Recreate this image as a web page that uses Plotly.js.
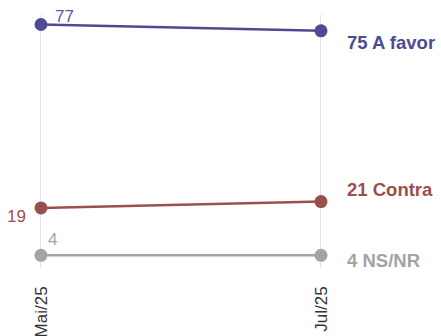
<!DOCTYPE html>
<html><head><meta charset="utf-8">
<script src="https://cdn.plot.ly/plotly-3.0.1.min.js"></script>
<style>html,body{margin:0;padding:0;background:#fff}#chart{width:441px;height:336px}</style>
</head><body><div id="chart"></div>
<script>
const periods = ["Mai/25", "Jul/25"];
const seriesNames = ["A favor", "Contra", "NS/NR"];
const aFavor = [77, 75];
const contra = [19, 21];
const nsnr = [4, 4];
const colors = ["#4e4a94", "#9a4f4f", "#a3a3a3"];
const allSeries = [aFavor, contra, nsnr];

const traces = allSeries.map((vals, i) => ({
  x: periods, y: vals, type: "scatter", mode: "lines+markers",
  line: {color: colors[i], width: 2.5},
  marker: {color: colors[i], size: 13},
  hoverinfo: "skip", showlegend: false, cliponaxis: false
}));

const leftShift = [{xs: 24, ys: 8}, {xs: -24, ys: -9}, {xs: 12, ys: 16}];
const leftColors = ["#5d5a94", "#9a5050", "#a3a3a3"];
const annotations = [];
allSeries.forEach((vals, i) => {
  annotations.push({
    x: periods[0], y: vals[0], xref: "x", yref: "y", text: String(vals[0]),
    showarrow: false, xshift: leftShift[i].xs, yshift: leftShift[i].ys,
    font: {family: "Liberation Sans, Arial", size: 17, color: leftColors[i]}
  });
});
const rightYs = [-12, 12, -5];
allSeries.forEach((vals, i) => {
  annotations.push({
    x: periods[1], y: vals[1], xref: "x", yref: "y",
    text: "<b>" + vals[1] + " " + seriesNames[i] + "</b>",
    showarrow: false, xanchor: "left", xshift: 24, yshift: rightYs[i],
    font: {family: "Liberation Sans, Arial", size: 18.5, color: colors[i]}
  });
});

const layout = {
  width: 441, height: 336,
  margin: {l: 0, r: 0, t: 15, b: 68},
  paper_bgcolor: "#fff", plot_bgcolor: "#fff",
  xaxis: {
    type: "category", range: [-0.1464, 1.4286],
    showgrid: true, gridcolor: "#e3e3e3", gridwidth: 1,
    zeroline: false, showline: false, ticks: "", ticklabelstandoff: 14,
    tickangle: -90, tickfont: {family: "Liberation Sans, Arial", size: 17, color: "#333"}
  },
  yaxis: {range: [0, 80], showgrid: false, zeroline: false, showticklabels: false, showline: false},
  annotations: annotations,
  showlegend: false
};
Plotly.newPlot("chart", traces, layout, {staticPlot: true, displayModeBar: false});
</script></body></html>
